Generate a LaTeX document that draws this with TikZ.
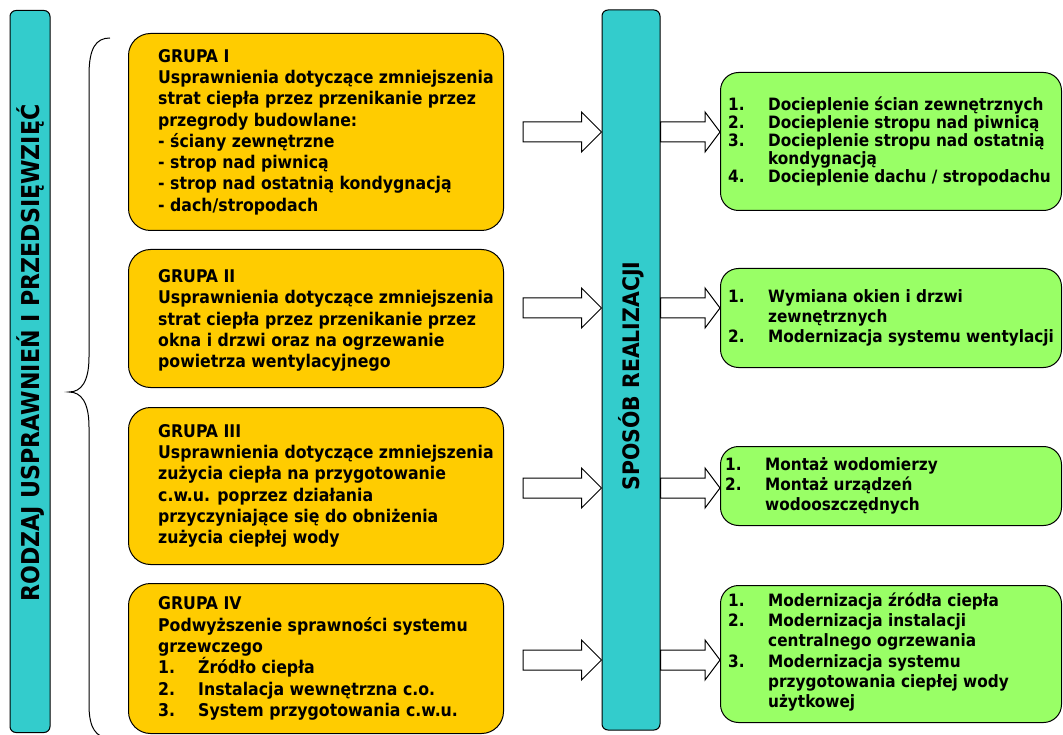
\documentclass[tikz,border=0pt]{standalone}
\usepackage{fontspec}
\IfFontExistsTF{DejaVu Sans Condensed}
  {\setmainfont{DejaVu Sans Condensed}}
  {\setmainfont{DejaVu Sans}[FakeStretch=0.9]}
\usetikzlibrary{calc}

\definecolor{barcyan}{HTML}{33CCCC}
\definecolor{grpyellow}{HTML}{FFCC00}
\definecolor{realgreen}{HTML}{99FF66}

\tikzset{
  bar/.style={draw, line width=1pt, fill=barcyan, rounded corners=6pt, inner sep=0pt},
  bartext/.style={rotate=90, inner sep=0pt, font=\bfseries\fontsize{24.6}{28}\selectfont},
  grpbox/.style={draw, line width=1pt, fill=grpyellow, rounded corners=22pt, anchor=north west, inner sep=0pt, minimum width=375pt},
  grptext/.style={anchor=west, align=left, inner sep=0pt, font=\bfseries\fontsize{17.5}{21.3}\selectfont},
  realbox/.style={draw, line width=1pt, fill=realgreen, rounded corners=18pt, anchor=north west, inner sep=0pt, minimum width=341pt},
  realtext/.style={anchor=west, align=left, inner sep=0pt, font=\bfseries\fontsize{17}{20.3}\selectfont},
  blockarr/.style={draw, line width=1pt, fill=white,
    to path={let \p1=(\tikztostart), \p2=(\tikztotarget) in
      (\x1,\y1+10pt) -- (\x2-#1,\y1+10pt) -- (\x2-#1,\y1+20pt) -- (\x2,\y1)
      -- (\x2-#1,\y1-20pt) -- (\x2-#1,\y1-10pt) -- (\x1,\y1-10pt) -- cycle}},
  blockarr/.default=20pt
}
\newcommand{\numitem}[1]{\makebox[40pt][l]{#1}}

\begin{document}
\begin{tikzpicture}[x=1pt, y=1pt]
  \useasboundingbox (0,0) rectangle (1063,-735);

  % 两根竖条
  \node[bar, minimum width=40pt, minimum height=722pt] (kind) at (30,-371.5) {};
  \node[bartext] (kindtxt) at (31,-353) {RODZAJ USPRAWNIEŃ I PRZEDSIĘWZIĘĆ};
  \node[bar, minimum width=58pt, minimum height=720pt] (way) at (631,-370) {};
  \node[bartext, font=\bfseries\fontsize{22.7}{26}\selectfont] (waytxt) at (631,-376) {SPOSÓB REALIZACJI};

  % 大括号
  \draw[line width=1pt] (110,-38) .. controls (96,-38) and (89,-48) .. (89,-75) -- (89,-357)
    .. controls (89,-382) and (81,-392) .. (69,-392) .. controls (81,-392) and (89,-402) .. (89,-427)
    -- (89,-705) .. controls (89,-728) and (96,-738) .. (110,-738);

  % 四组 (黄色)
  \node[grpbox, minimum height=197pt] (grp1) at (128,-33) {};
  \node[grptext] (grp1txt) at ($(grp1.west)+(30,0)$) {GRUPA I\\
    Usprawnienia dotyczące zmniejszenia\\strat ciepła przez przenikanie przez\\
    przegrody budowlane:\\- ściany zewnętrzne\\- strop nad piwnicą\\
    - strop nad ostatnią kondygnacją\\- dach/stropodach};
  \node[grpbox, minimum height=138pt] (grp2) at (128,-249) {};
  \node[grptext] (grp2txt) at ($(grp2.west)+(30,-2)$) {GRUPA II\\
    Usprawnienia dotyczące zmniejszenia\\strat ciepła przez przenikanie przez\\
    okna i drzwi oraz na ogrzewanie\\powietrza wentylacyjnego};
  \node[grpbox, minimum height=157pt] (grp3) at (128,-407) {};
  \node[grptext] (grp3txt) at ($(grp3.west)+(30,0)$) {GRUPA III\\
    Usprawnienia dotyczące zmniejszenia\\zużycia ciepła na przygotowanie\\
    c.w.u. poprzez działania\\przyczyniające się do obniżenia\\zużycia ciepłej wody};
  \node[grpbox, minimum height=150pt] (grp4) at (128,-583) {};
  \node[grptext] (grp4txt) at ($(grp4.west)+(30,0)$) {GRUPA IV\\
    Podwyższenie sprawności systemu\\grzewczego\\
    \numitem{1.}Źródło ciepła\\\numitem{2.}Instalacja wewnętrzna c.o.\\
    \numitem{3.}System przygotowania c.w.u.};

  % 实现方式 (绿色)
  \node[realbox, minimum height=138pt] (real1) at (720,-72) {};
  \node[realtext, font=\bfseries\fontsize{17}{18}\selectfont] (real1txt) at ($(real1.west)+(8,0)$) {%
    \numitem{1.}Docieplenie ścian zewnętrznych\\\numitem{2.}Docieplenie stropu nad piwnicą\\
    \numitem{3.}Docieplenie stropu nad ostatnią\\\numitem{}kondygnacją\\
    \numitem{4.}Docieplenie dachu / stropodachu};
  \node[realbox, minimum height=99pt] (real2) at (720,-268) {};
  \node[realtext] (real2txt) at ($(real2.west)+(8,0)$) {%
    \numitem{1.}Wymiana okien i drzwi\\\numitem{}zewnętrznych\\
    \numitem{2.}Modernizacja systemu wentylacji};
  \node[realbox, minimum height=79pt] (real3) at (720,-446) {};
  \node[realtext] (real3txt) at ($(real3.west)+(5,0)$) {%
    \numitem{1.}Montaż wodomierzy\\\numitem{2.}Montaż urządzeń\\\numitem{}wodooszczędnych};
  \node[realbox, minimum height=137pt] (real4) at (720,-585) {};
  \node[realtext] (real4txt) at ($(real4.west)+(8,2)$) {%
    \numitem{1.}Modernizacja źródła ciepła\\\numitem{2.}Modernizacja instalacji\\
    \numitem{}centralnego ogrzewania\\\numitem{3.}Modernizacja systemu\\
    \numitem{}przygotowania ciepłej wody\\\numitem{}użytkowej};

  % 箭头
  \coordinate (r1) at (0,-132);
  \coordinate (r2) at (0,-308);
  \coordinate (r3) at (0,-488);
  \coordinate (r4) at (0,-660);
  \foreach \i in {1,...,4} {
    \draw[blockarr] ($(grp\i.east |- r\i)+(19,0)$) to (way.west |- r\i);
    \draw[blockarr=15pt] (way.east |- r\i) to (real\i.west |- r\i);
  }
\end{tikzpicture}
\end{document}
